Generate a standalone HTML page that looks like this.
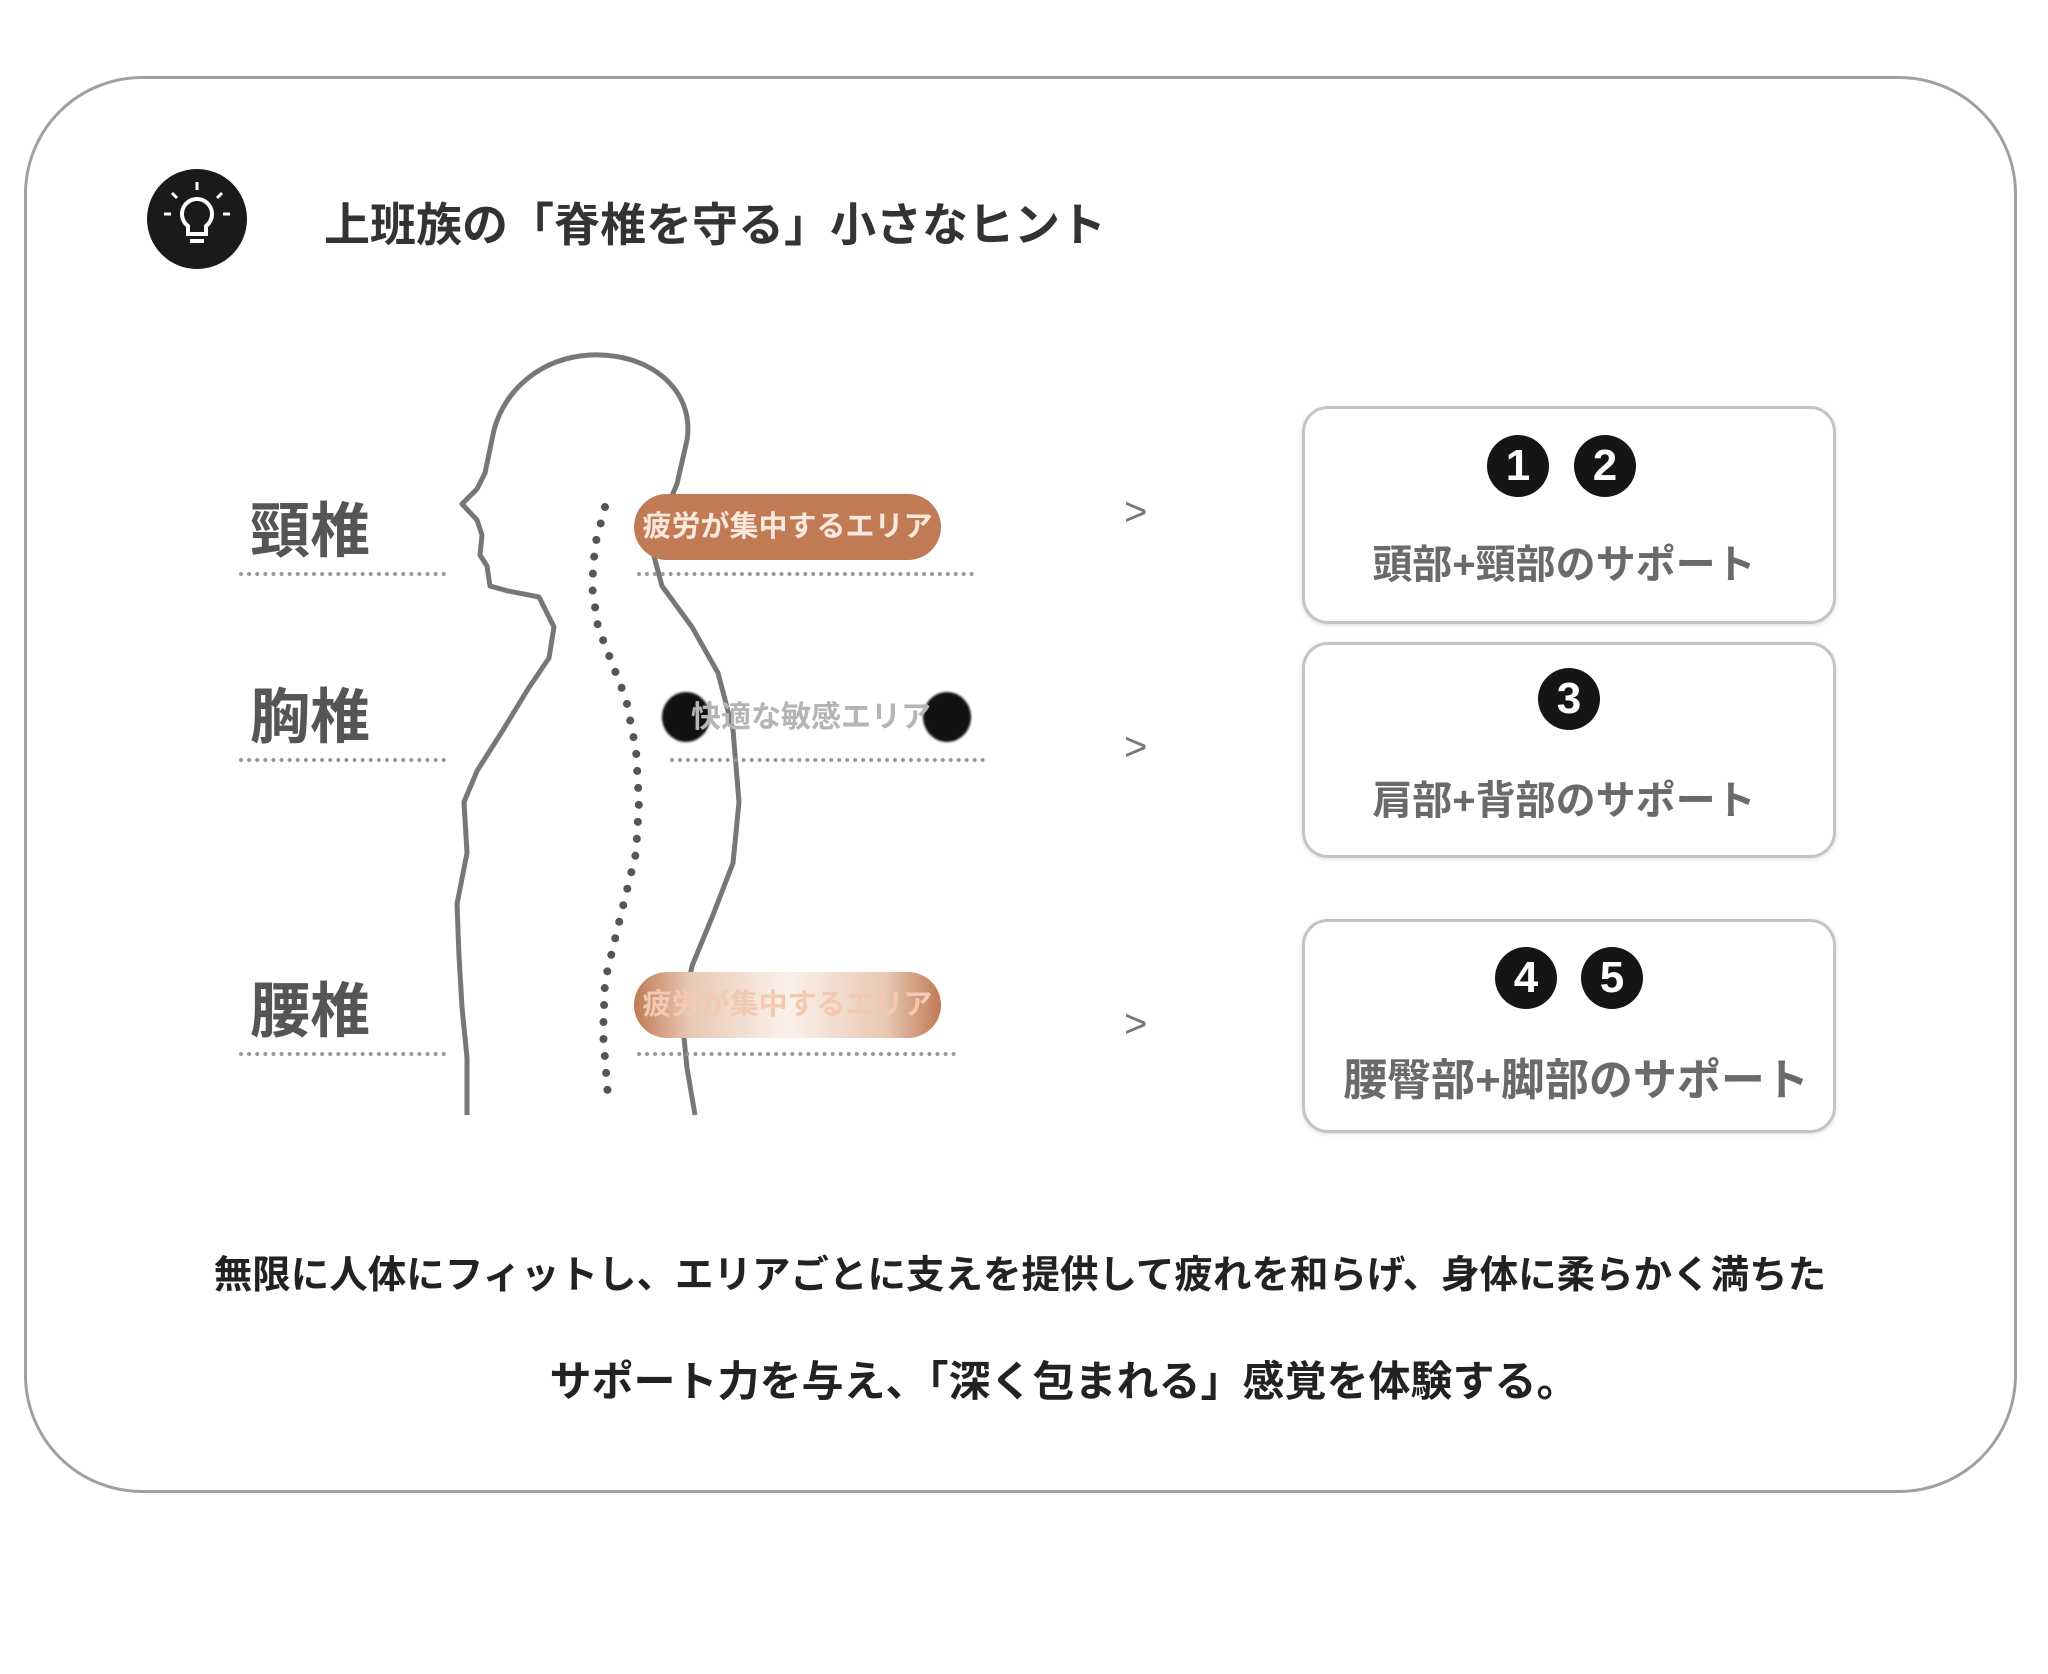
<!DOCTYPE html>
<html><head><meta charset="utf-8"><style>
html,body{margin:0;padding:0;background:#fff;}
body{width:2048px;height:1674px;position:relative;overflow:hidden;font-family:"Liberation Sans","Noto Sans CJK JP",sans-serif;font-weight:bold;}
.a{position:absolute;white-space:nowrap;}
.outer{position:absolute;left:24px;top:76px;width:1987px;height:1411px;border:3px solid #a0a0a0;border-radius:118px;}
.lbl{font-size:60px;color:#555;line-height:1;}
.dl{position:absolute;height:0;border-top:4px dotted #999;}
.box{position:absolute;left:1302px;width:528px;border:3px solid #c4c4c4;border-radius:26px;box-shadow:0 1px 4px rgba(0,0,0,.15);}
.num{position:absolute;width:62px;height:62px;border-radius:50%;background:#151515;color:#fff;font-size:44px;line-height:62px;text-align:center;font-family:"Liberation Sans",sans-serif;}
.bt{font-size:40px;color:#6a6a6a;text-align:center;}
.arr{font-size:40px;color:#777;font-weight:normal;}
</style></head><body>
<div class="outer"></div>
<svg class="a" style="left:147px;top:169px" width="100" height="100" viewBox="0 0 100 100">
<circle cx="50" cy="50" r="50" fill="#1a1a1a"/>
<path d="M50 30 a15 15 0 0 1 9 27 v8 h-18 v-8 a15 15 0 0 1 9-27z" fill="none" stroke="#fff" stroke-width="4"/>
<line x1="43" y1="72" x2="57" y2="72" stroke="#fff" stroke-width="4"/>
<g stroke="#fff" stroke-width="3"><line x1="50" y1="13" x2="50" y2="21"/><line x1="25" y1="24" x2="30" y2="29"/><line x1="75" y1="24" x2="70" y2="29"/><line x1="17" y1="45" x2="24" y2="45"/><line x1="83" y1="45" x2="76" y2="45"/></g>
</svg>
<div class="a" style="left:324px;top:198px;font-size:46px;color:#333;line-height:54px;">上班族の「脊椎を守る」小さなヒント</div>

<svg class="a" style="left:0;top:0" width="2048" height="1674">
<path d="M467 1115 L467 1058 L462 1007 L459 956 L457 904 L467 853 L464 802 L477 771 L503 730 L528 689 L549 658 L554 627 L539 597 L508 591 L490 586 L487 566 L480 555 L482 535 L477 520 L462 504 L477 489 L485 473 L494 430 C505 390 540 358 590 355 C650 352 695 390 687 440 L677 484 L651 545 L662 586 L692 627 L718 673 L733 730 L739 802 L733 863 L713 915 L692 966 L682 1017 L687 1068 L695 1115" fill="none" stroke="#777" stroke-width="5" stroke-linejoin="round"/>
<path d="M605 507 L595 545 L592 586 L598 627 L610 658 L626 699 L636 750 L639 802 L636 853 L626 894 L616 935 L605 981 L603 1033 L608 1097" fill="none" stroke="#555" stroke-width="8" stroke-linecap="round" stroke-dasharray="0 17"/>
</svg>

<div class="a lbl" style="left:250px;top:502px">頸椎</div>
<div class="a lbl" style="left:250px;top:688px">胸椎</div>
<div class="a lbl" style="left:250px;top:982px">腰椎</div>
<div class="dl" style="left:239px;width:207px;top:572px"></div>
<div class="dl" style="left:239px;width:207px;top:758px"></div>
<div class="dl" style="left:239px;width:207px;top:1052px"></div>
<div class="dl" style="left:637px;width:337px;top:572px"></div>
<div class="dl" style="left:670px;width:315px;top:758px"></div>
<div class="dl" style="left:637px;width:319px;top:1052px"></div>

<div class="a" style="left:634px;top:494px;width:307px;height:66px;border-radius:33px;background:#c07a54;color:#fbe8dc;font-size:29px;line-height:66px;text-align:center;">疲労が集中するエリア</div>
<div class="a" style="left:662px;top:692px;width:48px;height:50px;border-radius:50%;background:#111;filter:blur(1px)"></div>
<div class="a" style="left:923px;top:692px;width:48px;height:50px;border-radius:50%;background:#111;filter:blur(1px)"></div>
<div class="a" style="left:680px;top:698px;width:262px;font-size:30px;line-height:40px;color:#b5b5b5;text-align:center;">快適な敏感エリア</div>
<div class="a" style="left:634px;top:972px;width:307px;height:66px;border-radius:33px;background:linear-gradient(90deg,#c07a54 0%,#e8c8b4 18%,#fbf1ea 50%,#e8c8b4 82%,#c07a54 100%);color:#f3c9b2;font-size:29px;line-height:66px;text-align:center;">疲労が集中するエリア</div>

<div class="a arr" style="left:1124px;top:490px">&gt;</div>
<div class="a arr" style="left:1124px;top:725px">&gt;</div>
<div class="a arr" style="left:1124px;top:1002px">&gt;</div>

<div class="box" style="top:406px;height:212px"></div>
<div class="num" style="left:1487px;top:435px">1</div>
<div class="num" style="left:1574px;top:435px">2</div>
<div class="a bt" style="left:1296px;width:536px;top:532px">頭部+頸部のサポート</div>

<div class="box" style="top:642px;height:210px"></div>
<div class="num" style="left:1538px;top:668px">3</div>
<div class="a bt" style="left:1296px;width:536px;top:768px">肩部+背部のサポート</div>

<div class="box" style="top:919px;height:208px"></div>
<div class="num" style="left:1495px;top:947px">4</div>
<div class="num" style="left:1581px;top:947px">5</div>
<div class="a bt" style="left:1296px;width:560px;top:1044px;font-size:44px;">腰臀部+脚部のサポート</div>

<div class="a" style="left:0;width:2040px;text-align:center;top:1250px;font-size:38.5px;color:#222;line-height:52px;">無限に人体にフィットし、エリアごとに支えを提供して疲れを和らげ、身体に柔らかく満ちた</div>
<div class="a" style="left:0;width:2128px;text-align:center;top:1356px;font-size:42px;color:#222;line-height:52px;">サポート力を与え、「深く包まれる」感覚を体験する。</div>
</body></html>
